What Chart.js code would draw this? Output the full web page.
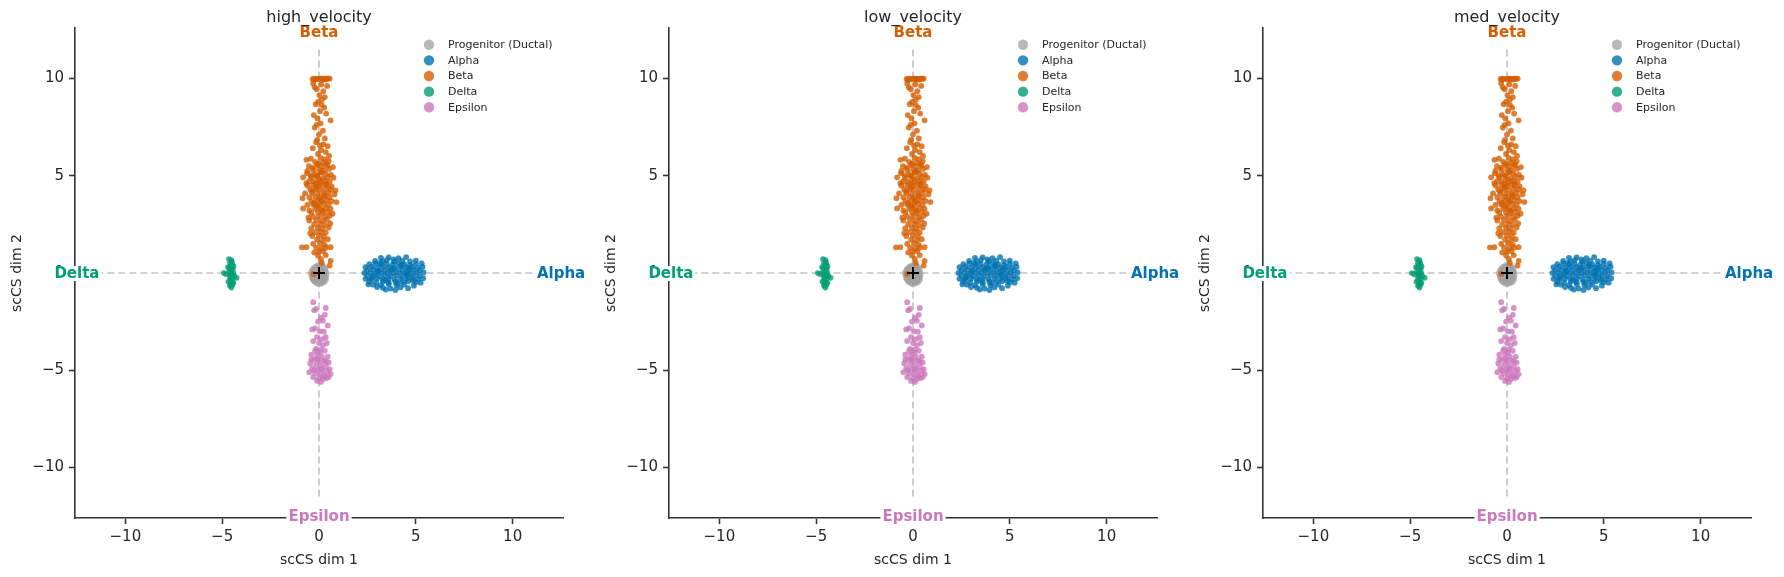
<!DOCTYPE html>
<html><head><meta charset="utf-8">
<script src="https://cdn.jsdelivr.net/npm/chart.js@4/dist/chart.umd.min.js"></script>
<style>
body{margin:0;background:#fff;width:1784px;height:577px;overflow:hidden;position:relative;}
.p{position:absolute;top:0;width:594px;height:577px;}
</style>
</head><body>
<div class="p" style="left:0"><canvas id="c0" width="594" height="577"></canvas></div>
<div class="p" style="left:594px"><canvas id="c1" width="594" height="577"></canvas></div>
<div class="p" style="left:1188px"><canvas id="c2" width="594" height="577"></canvas></div>
<script>
// ---------- data ----------
const panelTitles = ['high_velocity', 'low_velocity', 'med_velocity'];
const categories = ['Progenitor (Ductal)', 'Alpha', 'Beta', 'Delta', 'Epsilon'];
const tickValues = [-10, -5, 0, 5, 10];
const axisLimit = 12.6;
const guideExtent = 11.5;
const labelOffset = 12.5;
const xTitle = 'scCS dim 1';
const yTitle = 'scCS dim 2';

const progenitorPts = [[0,0],[0.12,0.15],[-0.12,0.12],[0.1,-0.22],[-0.1,-0.28],[0.18,-0.05],[-0.2,-0.02],[0.02,0.2],[0.0,-0.36],[-0.05,-0.15],[0.08,0.05],[-0.15,-0.2],[0.15,-0.3]];

const alphaPts = [
[3.2,0.78],[3.6,0.8],[4.1,0.76],[4.5,0.82],[3.85,0.7],
[2.9,0.62],[3.3,0.6],[3.5,0.66],[3.9,0.58],[4.3,0.63],[4.7,0.6],[5.0,0.64],
[2.6,0.45],[2.9,0.48],[3.2,0.43],[3.5,0.46],[3.8,0.44],[4.1,0.49],[4.4,0.45],[4.7,0.42],[5.0,0.47],[5.3,0.5],
[2.4,0.3],[2.7,0.32],[3.0,0.28],[3.3,0.31],[3.6,0.3],[3.9,0.27],[4.2,0.33],[4.5,0.29],[4.8,0.31],[5.1,0.28],[5.35,0.32],
[2.5,0.15],[2.8,0.17],[3.1,0.13],[3.4,0.16],[3.7,0.14],[4.0,0.18],[4.3,0.15],[4.6,0.12],[4.9,0.16],[5.2,0.14],
[2.35,0.0],[2.65,0.02],[2.95,-0.02],[3.25,0.01],[3.55,0.0],[3.85,-0.01],[4.15,0.02],[4.45,0.0],[4.75,-0.02],[5.05,0.01],[5.4,0.03],
[2.5,-0.15],[2.8,-0.13],[3.1,-0.17],[3.4,-0.14],[3.7,-0.16],[4.0,-0.12],[4.3,-0.15],[4.6,-0.18],[4.9,-0.14],[5.2,-0.16],
[2.4,-0.3],[2.7,-0.32],[3.0,-0.28],[3.3,-0.31],[3.6,-0.3],[3.9,-0.33],[4.2,-0.29],[4.5,-0.31],[4.8,-0.28],[5.1,-0.32],[5.38,-0.27],
[2.6,-0.45],[2.95,-0.47],[3.3,-0.44],[3.6,-0.48],[3.95,-0.45],[4.3,-0.46],[4.6,-0.43],[5.0,-0.47],[5.25,-0.5],
[2.8,-0.6],[3.2,-0.62],[3.6,-0.58],[4.0,-0.63],[4.4,-0.6],[4.9,-0.65],[2.55,-0.58],
[3.3,-0.76],[3.7,-0.8],[4.2,-0.74],[3.0,-0.72],[4.6,-0.78],[3.95,-0.88],[3.45,-0.85],
[3.05,0.08],[3.75,0.22],[4.55,-0.08],[3.45,-0.38],[4.25,0.4],[4.85,-0.4],[2.75,-0.22],[3.15,0.52],[4.05,-0.52],[4.65,0.22]
];

const betaPts = [
[-0.33,9.98],[-0.22,10.0],[-0.12,9.97],[-0.02,10.0],[0.08,9.99],[0.18,10.0],[0.28,9.98],[0.38,10.0],[0.47,9.99],[0.55,10.0],[-0.27,9.93],[0.13,9.94],[0.33,9.95],
[-0.3,9.75],[0.12,9.7],[0.42,9.62],[-0.12,9.45],[0.22,9.35],[-0.22,9.55],[0.02,9.15],[0.3,9.05],[0.15,8.92],[-0.05,8.8],[-0.17,8.68],[0.27,8.5],[0.05,8.32],[-0.27,8.12],[0.37,8.2],
[0.6,7.85],[0.08,7.7],[-0.12,7.62],[-0.22,7.48],[0.2,7.32],[0.0,7.12],[0.3,6.92],[-0.15,6.72],[0.45,6.52],[0.12,6.32],[-0.05,6.12],[0.22,6.62],[0.35,6.22],[-0.32,6.42],[0.52,6.02],[-0.08,7.95],[0.14,8.65],[-0.1,6.85],[0.05,6.55],
[-0.42,5.88],[0.08,5.92],[0.3,5.85],[-0.65,5.82],
[-0.2,5.72],[0.2,5.68],[0.5,5.75],[-0.05,5.62],
[-0.52,5.5],[-0.1,5.55],[0.15,5.48],[0.42,5.52],[0.72,5.45],[-0.32,5.42],
[-0.3,5.3],[0.0,5.32],[0.25,5.28],[0.52,5.35],[-0.6,5.25],
[-0.62,5.12],[-0.2,5.08],[0.1,5.15],[0.35,5.1],[0.62,5.05],[-0.42,5.02],
[-0.82,4.92],[-0.4,4.9],[-0.1,4.95],[0.2,4.88],[0.45,4.93],[0.75,4.9],[0.02,4.82],
[-0.5,4.72],[-0.25,4.7],[0.05,4.68],[0.3,4.74],[0.55,4.7],[-0.65,4.62],
[-0.6,4.5],[-0.3,4.52],[0.0,4.48],[0.2,4.55],[0.4,4.5],[0.65,4.46],[-0.12,4.4],
[-0.45,4.3],[-0.15,4.32],[0.1,4.28],[0.35,4.33],[0.6,4.3],[0.85,4.25],
[-0.72,4.1],[-0.35,4.12],[-0.05,4.08],[0.25,4.1],[0.5,4.14],[0.8,4.05],
[-0.5,3.9],[-0.2,3.92],[0.05,3.88],[0.3,3.94],[0.55,3.9],[-0.85,3.85],
[-0.4,3.7],[-0.1,3.72],[0.15,3.68],[0.4,3.74],[0.9,3.65],[0.65,3.7],
[-0.6,3.5],[-0.3,3.52],[0.0,3.48],[0.25,3.55],[0.5,3.5],[-0.08,3.42],
[-0.82,3.32],[-0.2,3.3],[0.1,3.28],[0.35,3.34],[0.6,3.3],[-0.5,3.22],
[-0.4,3.1],[-0.05,3.12],[0.2,3.08],[0.45,3.14],[0.7,3.05],
[-0.3,2.9],[0.0,2.92],[0.3,2.88],[0.55,2.94],[-0.55,2.85],
[-0.5,2.7],[-0.15,2.72],[0.15,2.68],[0.4,2.74],
[-0.25,2.5],[0.05,2.52],[0.3,2.48],[0.58,2.55],
[-0.4,2.3],[-0.05,2.32],[0.2,2.28],[0.5,2.34],
[-0.2,2.1],[0.1,2.12],[0.35,2.08],[-0.45,2.05],
[-0.35,1.9],[0.0,1.92],[0.25,1.88],
[-0.1,1.72],[0.2,1.68],[0.45,1.74],
[-0.3,1.5],[0.05,1.52],[0.3,1.45],
[-0.88,1.32],[-0.65,1.33],[-0.15,1.3],[0.12,1.27],[0.35,1.3],[0.6,1.33],
[0.0,1.1],[0.22,1.12],[-0.25,1.05],
[-0.05,0.9],[0.35,0.92],
[0.1,0.72],[0.6,0.62],
[0.15,0.52],[0.55,0.38],
[-0.3,-0.05],
[0.12,5.2],[-0.15,4.6],[0.28,4.0],[-0.25,3.6],[0.18,3.2],[-0.1,5.0],[0.38,4.6],[-0.35,4.2],[0.08,3.75],[0.4,5.6]
];

const deltaPts = [
[-4.65,0.72],[-4.52,0.66],[-4.6,0.52],[-4.47,0.45],[-4.55,0.36],[-4.62,0.26],[-4.45,0.2],[-4.52,0.1],[-4.66,0.05],[-4.42,0.0],
[-4.56,-0.05],[-4.92,0.0],[-4.8,-0.06],[-4.5,-0.15],[-4.6,-0.2],[-4.37,-0.14],[-4.46,-0.3],[-4.6,-0.36],[-4.5,-0.46],[-4.56,-0.56],
[-4.46,-0.6],[-4.6,-0.66],[-4.52,-0.75],[-4.25,-0.25],[-4.7,0.3],[-4.41,0.34],[-4.6,-0.05],[-4.5,0.56],[-4.68,-0.45],[-4.42,-0.5]
];

const epsilonPts = [
[-0.3,-1.5],[-0.25,-1.92],[-0.15,-1.85],[0.35,-1.8],[0.1,-2.3],[0.3,-2.15],[-0.05,-2.5],[0.2,-2.45],[0.45,-2.7],[-0.35,-2.9],
[-0.2,-2.85],[0.05,-3.0],[0.25,-3.02],[-0.1,-3.3],[0.15,-3.4],[0.35,-3.3],[-0.3,-3.5],[0.0,-3.6],[0.2,-3.72],[-0.15,-3.9],
[0.1,-3.95],[0.3,-4.0],[0.45,-4.3],[-0.4,-4.2],[-0.1,-4.2],[0.15,-4.3],[-0.25,-4.45],[0.0,-4.5],[0.25,-4.5],[0.5,-4.6],
[-0.45,-4.65],[-0.15,-4.7],[0.1,-4.75],[0.35,-4.8],[-0.35,-4.9],[-0.05,-4.95],[0.2,-5.0],[0.45,-5.05],[-0.5,-5.1],[-0.2,-5.15],
[0.05,-5.2],[0.3,-5.25],[0.6,-5.2],[-0.3,-5.35],[0.0,-5.4],[0.2,-5.45],[0.4,-5.4],[-0.1,-5.55],[0.1,-5.6],[0.5,-5.35],
[-0.4,-4.45],[0.35,-4.55],[-0.1,-4.4],[0.1,-4.95],[-0.25,-5.0],[0.25,-5.3],[0.55,-4.95],[0.05,-4.1],[-0.2,-4.0],[0.4,-3.6]
];

const originMark = [[0, 0]];

// ---------- style ----------
const FONT = "'DejaVu Sans', 'Liberation Sans', sans-serif";
Chart.defaults.font.family = FONT;
const TXT = '#262626';
const catColors = {
  'Progenitor (Ductal)': {fill: 'rgba(160,160,160,0.75)', legend: 'rgba(148,148,148,0.65)', text: '#949494'},
  'Alpha': {fill: 'rgba(1,115,178,0.8)', legend: 'rgba(1,115,178,0.8)', text: '#0173b2'},
  'Beta': {fill: 'rgba(213,94,0,0.8)', legend: 'rgba(213,94,0,0.8)', text: '#d55e00'},
  'Delta': {fill: 'rgba(2,158,115,0.8)', legend: 'rgba(2,158,115,0.8)', text: '#029e73'},
  'Epsilon': {fill: 'rgba(204,120,188,0.8)', legend: 'rgba(204,120,188,0.8)', text: '#cc78bc'}
};
const catPoints = {
  'Progenitor (Ductal)': progenitorPts, 'Alpha': alphaPts, 'Beta': betaPts, 'Delta': deltaPts, 'Epsilon': epsilonPts
};
const catRadius = {'Progenitor (Ductal)': 7, 'Alpha': 2.9, 'Beta': 2.9, 'Delta': 2.8, 'Epsilon': 2.9};
const catOrder = {'Progenitor (Ductal)': 5, 'Alpha': 4, 'Beta': 3, 'Delta': 2, 'Epsilon': 1};
const endLabels = [
  {name: 'Alpha', x: labelOffset, y: 0},
  {name: 'Beta', x: 0, y: labelOffset},
  {name: 'Delta', x: -labelOffset, y: 0},
  {name: 'Epsilon', x: 0, y: -labelOffset}
];

const toXY = pts => pts.map(p => ({x: p[0], y: p[1]}));
const fmtTick = v => (v < 0 ? '\u2212' + Math.abs(v) : String(v));

const overlayPlugin = {
  id: 'overlay',
  afterDraw(chart) {
    const ctx = chart.ctx, xs = chart.scales.x, ys = chart.scales.y, ca = chart.chartArea;
    ctx.save();
    // end labels with white boxes
    ctx.font = 'bold 15px ' + FONT;
    ctx.textAlign = 'center';
    ctx.textBaseline = 'middle';
    endLabels.forEach(l => {
      const px = xs.getPixelForValue(l.x), py = ys.getPixelForValue(l.y) + (l.name === 'Beta' ? 2 : 0);
      const w = ctx.measureText(l.name).width;
      ctx.fillStyle = '#ffffff';
      ctx.fillRect(px - w / 2 - 2, py - 7, w + 4, 15);
      ctx.fillStyle = catColors[l.name].text;
      ctx.fillText(l.name, px, py + 1);
    });
    // title
    ctx.font = '16px ' + FONT;
    ctx.fillStyle = TXT;
    ctx.fillText(chart.options.plugins.overlay.title, (ca.left + ca.right) / 2, 17.5);
    // legend
    const lx = ca.left + 354, tx = ca.left + 373;
    let ly = 44.7;
    ctx.font = '11px ' + FONT;
    ctx.textAlign = 'left';
    categories.forEach(c => {
      ctx.beginPath();
      ctx.arc(lx, ly, 5.2, 0, Math.PI * 2);
      ctx.fillStyle = catColors[c].legend;
      ctx.fill();
      ctx.fillStyle = TXT;
      ctx.fillText(c, tx, ly + 0.5);
      ly += 15.65;
    });
    ctx.restore();
  }
};

function makeChart(id, title) {
  const datasets = categories.map(c => ({
    label: c,
    data: toXY(catPoints[c]),
    backgroundColor: catColors[c].fill,
    borderWidth: 0,
    pointRadius: catRadius[c],
    pointHoverRadius: catRadius[c],
    order: catOrder[c]
  }));
  datasets.push({
    label: 'origin', data: toXY(originMark), pointStyle: 'cross', pointRadius: 6,
    borderColor: '#000', borderWidth: 2, backgroundColor: '#000', order: 0
  });
  datasets.push({
    type: 'line', label: 'h', data: [{x: -guideExtent, y: 0}, {x: guideExtent, y: 0}],
    borderColor: '#c4c4c4', borderDash: [7, 4], borderWidth: 1.7, pointRadius: 0, showLine: true, order: 9
  });
  datasets.push({
    type: 'line', label: 'v', data: [{x: 0, y: -guideExtent}, {x: 0, y: guideExtent}],
    borderColor: '#c4c4c4', borderDash: [7, 4], borderWidth: 1.7, pointRadius: 0, showLine: true, order: 9
  });
  const setTicks = s => { s.ticks = tickValues.map(v => ({value: v})); };
  return new Chart(document.getElementById(id), {
    type: 'scatter',
    data: {datasets},
    options: {
      responsive: false, animation: false, devicePixelRatio: 1,
      layout: {padding: {left: 4, right: 31, top: 28, bottom: 0}},
      plugins: {legend: {display: false}, tooltip: {enabled: false}, overlay: {title}},
      scales: {
        x: {
          type: 'linear', min: -axisLimit, max: axisLimit,
          afterBuildTicks: setTicks,
          afterFit: s => { s.height = 59; },
          grid: {drawOnChartArea: false, drawTicks: true, tickLength: 6, tickColor: '#333', tickWidth: 1.6},
          border: {display: true, color: '#333', width: 1.6},
          ticks: {color: TXT, font: {size: 15}, padding: 4, callback: fmtTick, maxRotation: 0},
          title: {display: true, text: xTitle, color: TXT, font: {size: 14}, padding: {top: 0, bottom: 8}}
        },
        y: {
          type: 'linear', min: -axisLimit, max: axisLimit,
          afterBuildTicks: setTicks,
          afterFit: s => { s.width = 71; },
          grid: {drawOnChartArea: false, drawTicks: true, tickLength: 6, tickColor: '#333', tickWidth: 1.6},
          border: {display: true, color: '#333', width: 1.6},
          ticks: {color: TXT, font: {size: 15}, padding: 5, callback: fmtTick},
          title: {display: true, text: yTitle, color: TXT, font: {size: 14}, padding: {top: 5, bottom: 0}}
        }
      }
    },
    plugins: [overlayPlugin]
  });
}
panelTitles.forEach((t, i) => makeChart('c' + i, t));
</script>
</body></html>
